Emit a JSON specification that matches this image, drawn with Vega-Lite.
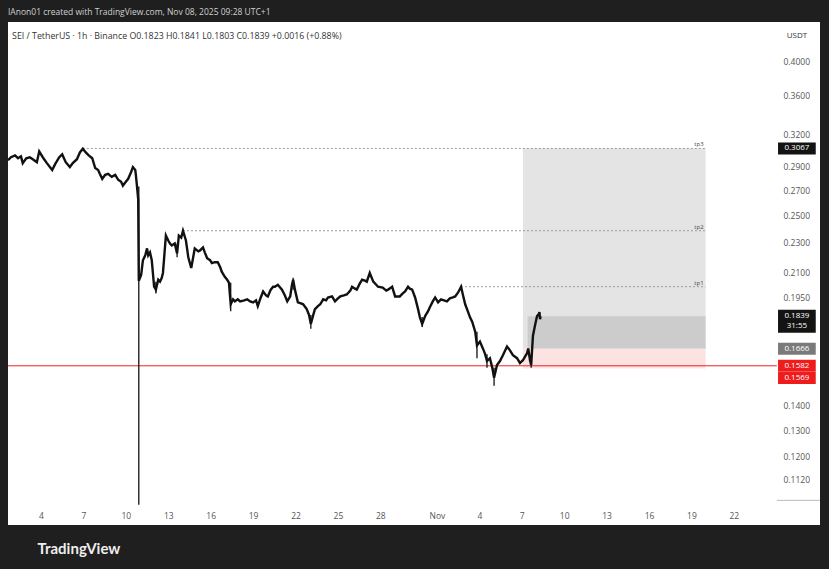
{
  "$schema": "https://vega.github.io/schema/vega-lite/v6.json",
  "width": 812,
  "height": 503,
  "autosize": {"type": "none"},
  "padding": {"left": 8, "top": 22, "right": 9, "bottom": 44},
  "background": "#1f1f1f",
  "title": {
    "text": "IAnon01 created with TradingView.com, Nov 08, 2025 09:28 UTC+1",
    "anchor": "start",
    "frame": "group",
    "fontSize": 8.5,
    "fontWeight": "normal",
    "color": "#d0d0d0",
    "font": "Open Sans",
    "offset": 6
  },
  "datasets": {
    "zones": [
      {"zone": "target", "t0": "2025-11-07T02:00Z", "p0": 0.1666, "p1": 0.3067},
      {"zone": "open", "t0": "2025-11-07T10:00Z", "p0": 0.1666, "p1": 0.1839},
      {"zone": "stop", "t0": "2025-11-07T02:00Z", "p0": 0.1569, "p1": 0.1666}
    ],
    "levels": [
      {"name": "tp3", "p": 0.3067, "t0": "2025-10-06T23:00Z"},
      {"name": "tp2", "p": 0.2387, "t0": "2025-10-14T01:00Z"},
      {"name": "tp1", "p": 0.2013, "t0": "2025-11-02T17:00Z"}
    ],
    "tags": [
      {"label": "0.3067", "p": 0.3067, "kind": "target"},
      {"label": "0.1666", "p": 0.1666, "kind": "entry"},
      {"label": "0.1582", "p": 0.1582, "kind": "stop"},
      {"label": "0.1569", "p": 0.1569, "kind": "stop2"},
      {"label": "0.1839\n31:55", "p": 0.1839, "kind": "last"}
    ],
    "wicks": [
      {"t": "2025-10-10T22:00Z", "h": 0.2731, "l": 0.1036},
      {"t": "2025-10-17T10:00Z", "h": 0.2038, "l": 0.1868},
      {"t": "2025-10-23T02:00Z", "h": 0.1846, "l": 0.1771},
      {"t": "2025-10-30T23:00Z", "h": 0.1835, "l": 0.1780},
      {"t": "2025-11-03T20:00Z", "h": 0.1755, "l": 0.1619},
      {"t": "2025-11-05T01:00Z", "h": 0.1572, "l": 0.1489},
      {"t": "2025-11-04T13:00Z", "h": 0.1638, "l": 0.1572},
      {"t": "2025-11-07T16:00Z", "h": 0.1609, "l": 0.1572},
      {"t": "2025-10-21T20:00Z", "h": 0.2068, "l": 0.1995},
      {"t": "2025-10-13T15:00Z", "h": 0.2296, "l": 0.2202},
      {"t": "2025-10-12T03:00Z", "h": 0.2044, "l": 0.1972}
    ],
    "prices": [
      {"t": "2025-10-01T16:00Z", "c": 0.2959},
      {"t": "2025-10-01T21:00Z", "c": 0.2986},
      {"t": "2025-10-02T04:00Z", "c": 0.3003},
      {"t": "2025-10-02T09:00Z", "c": 0.2977},
      {"t": "2025-10-02T14:00Z", "c": 0.2994},
      {"t": "2025-10-02T17:00Z", "c": 0.2933},
      {"t": "2025-10-02T23:00Z", "c": 0.2977},
      {"t": "2025-10-03T05:00Z", "c": 0.2986},
      {"t": "2025-10-03T10:00Z", "c": 0.2968},
      {"t": "2025-10-03T17:00Z", "c": 0.2941},
      {"t": "2025-10-03T21:00Z", "c": 0.3040},
      {"t": "2025-10-04T03:00Z", "c": 0.2986},
      {"t": "2025-10-04T10:00Z", "c": 0.2933},
      {"t": "2025-10-04T19:00Z", "c": 0.2872},
      {"t": "2025-10-05T00:00Z", "c": 0.2924},
      {"t": "2025-10-05T07:00Z", "c": 0.2986},
      {"t": "2025-10-05T12:00Z", "c": 0.3012},
      {"t": "2025-10-05T18:00Z", "c": 0.2941},
      {"t": "2025-10-06T01:00Z", "c": 0.2898},
      {"t": "2025-10-06T06:00Z", "c": 0.2933},
      {"t": "2025-10-06T13:00Z", "c": 0.2968},
      {"t": "2025-10-06T18:00Z", "c": 0.3030},
      {"t": "2025-10-06T23:00Z", "c": 0.3065},
      {"t": "2025-10-07T04:00Z", "c": 0.3030},
      {"t": "2025-10-07T09:00Z", "c": 0.3003},
      {"t": "2025-10-07T15:00Z", "c": 0.2977},
      {"t": "2025-10-07T20:00Z", "c": 0.2889},
      {"t": "2025-10-08T01:00Z", "c": 0.2872},
      {"t": "2025-10-08T04:00Z", "c": 0.2838},
      {"t": "2025-10-08T08:00Z", "c": 0.2796},
      {"t": "2025-10-08T13:00Z", "c": 0.2830},
      {"t": "2025-10-08T18:00Z", "c": 0.2838},
      {"t": "2025-10-09T00:00Z", "c": 0.2813},
      {"t": "2025-10-09T06:00Z", "c": 0.2830},
      {"t": "2025-10-09T11:00Z", "c": 0.2788},
      {"t": "2025-10-09T16:00Z", "c": 0.2771},
      {"t": "2025-10-09T19:00Z", "c": 0.2739},
      {"t": "2025-10-10T00:00Z", "c": 0.2771},
      {"t": "2025-10-10T04:00Z", "c": 0.2796},
      {"t": "2025-10-10T09:00Z", "c": 0.2855},
      {"t": "2025-10-10T12:00Z", "c": 0.2898},
      {"t": "2025-10-10T16:00Z", "c": 0.2872},
      {"t": "2025-10-10T17:00Z", "c": 0.2830},
      {"t": "2025-10-10T19:00Z", "c": 0.2731},
      {"t": "2025-10-10T21:00Z", "c": 0.2626},
      {"t": "2025-10-10T22:00Z", "c": 0.2050},
      {"t": "2025-10-11T02:00Z", "c": 0.2087},
      {"t": "2025-10-11T05:00Z", "c": 0.2182},
      {"t": "2025-10-11T09:00Z", "c": 0.2215},
      {"t": "2025-10-11T12:00Z", "c": 0.2262},
      {"t": "2025-10-11T14:00Z", "c": 0.2215},
      {"t": "2025-10-11T17:00Z", "c": 0.2235},
      {"t": "2025-10-11T20:00Z", "c": 0.2182},
      {"t": "2025-10-12T00:00Z", "c": 0.2013},
      {"t": "2025-10-12T03:00Z", "c": 0.1995},
      {"t": "2025-10-12T07:00Z", "c": 0.2056},
      {"t": "2025-10-12T10:00Z", "c": 0.2044},
      {"t": "2025-10-12T13:00Z", "c": 0.2068},
      {"t": "2025-10-12T15:00Z", "c": 0.2099},
      {"t": "2025-10-12T18:00Z", "c": 0.2248},
      {"t": "2025-10-12T20:00Z", "c": 0.2352},
      {"t": "2025-10-13T00:00Z", "c": 0.2317},
      {"t": "2025-10-13T03:00Z", "c": 0.2296},
      {"t": "2025-10-13T06:00Z", "c": 0.2282},
      {"t": "2025-10-13T11:00Z", "c": 0.2296},
      {"t": "2025-10-13T15:00Z", "c": 0.2228},
      {"t": "2025-10-13T18:00Z", "c": 0.2352},
      {"t": "2025-10-13T22:00Z", "c": 0.2338},
      {"t": "2025-10-14T01:00Z", "c": 0.2387},
      {"t": "2025-10-14T06:00Z", "c": 0.2317},
      {"t": "2025-10-14T10:00Z", "c": 0.2202},
      {"t": "2025-10-14T15:00Z", "c": 0.2131},
      {"t": "2025-10-14T18:00Z", "c": 0.2195},
      {"t": "2025-10-14T21:00Z", "c": 0.2262},
      {"t": "2025-10-15T03:00Z", "c": 0.2242},
      {"t": "2025-10-15T06:00Z", "c": 0.2248},
      {"t": "2025-10-15T11:00Z", "c": 0.2269},
      {"t": "2025-10-15T14:00Z", "c": 0.2235},
      {"t": "2025-10-15T18:00Z", "c": 0.2195},
      {"t": "2025-10-15T23:00Z", "c": 0.2182},
      {"t": "2025-10-16T02:00Z", "c": 0.2163},
      {"t": "2025-10-16T07:00Z", "c": 0.2169},
      {"t": "2025-10-16T12:00Z", "c": 0.2169},
      {"t": "2025-10-16T16:00Z", "c": 0.2137},
      {"t": "2025-10-16T19:00Z", "c": 0.2106},
      {"t": "2025-10-17T00:00Z", "c": 0.2074},
      {"t": "2025-10-17T04:00Z", "c": 0.2056},
      {"t": "2025-10-17T07:00Z", "c": 0.2038},
      {"t": "2025-10-17T10:00Z", "c": 0.1908},
      {"t": "2025-10-17T14:00Z", "c": 0.1937},
      {"t": "2025-10-17T17:00Z", "c": 0.1925},
      {"t": "2025-10-17T22:00Z", "c": 0.1937},
      {"t": "2025-10-18T02:00Z", "c": 0.1925},
      {"t": "2025-10-18T09:00Z", "c": 0.1931},
      {"t": "2025-10-18T14:00Z", "c": 0.1937},
      {"t": "2025-10-18T19:00Z", "c": 0.1925},
      {"t": "2025-10-19T00:00Z", "c": 0.1919},
      {"t": "2025-10-19T05:00Z", "c": 0.1931},
      {"t": "2025-10-19T08:00Z", "c": 0.1897},
      {"t": "2025-10-19T13:00Z", "c": 0.1948},
      {"t": "2025-10-19T17:00Z", "c": 0.1984},
      {"t": "2025-10-19T22:00Z", "c": 0.1960},
      {"t": "2025-10-20T01:00Z", "c": 0.1954},
      {"t": "2025-10-20T06:00Z", "c": 0.1995},
      {"t": "2025-10-20T10:00Z", "c": 0.2013},
      {"t": "2025-10-20T13:00Z", "c": 0.2013},
      {"t": "2025-10-20T18:00Z", "c": 0.2025},
      {"t": "2025-10-21T01:00Z", "c": 0.1995},
      {"t": "2025-10-21T06:00Z", "c": 0.1960},
      {"t": "2025-10-21T10:00Z", "c": 0.1925},
      {"t": "2025-10-21T15:00Z", "c": 0.1954},
      {"t": "2025-10-21T18:00Z", "c": 0.2025},
      {"t": "2025-10-21T20:00Z", "c": 0.2056},
      {"t": "2025-10-21T23:00Z", "c": 0.1995},
      {"t": "2025-10-22T04:00Z", "c": 0.1919},
      {"t": "2025-10-22T08:00Z", "c": 0.1914},
      {"t": "2025-10-22T13:00Z", "c": 0.1908},
      {"t": "2025-10-22T19:00Z", "c": 0.1880},
      {"t": "2025-10-22T23:00Z", "c": 0.1846},
      {"t": "2025-10-23T02:00Z", "c": 0.1797},
      {"t": "2025-10-23T06:00Z", "c": 0.1846},
      {"t": "2025-10-23T09:00Z", "c": 0.1880},
      {"t": "2025-10-23T14:00Z", "c": 0.1897},
      {"t": "2025-10-23T18:00Z", "c": 0.1908},
      {"t": "2025-10-23T23:00Z", "c": 0.1937},
      {"t": "2025-10-24T04:00Z", "c": 0.1931},
      {"t": "2025-10-24T07:00Z", "c": 0.1948},
      {"t": "2025-10-24T14:00Z", "c": 0.1954},
      {"t": "2025-10-24T19:00Z", "c": 0.1925},
      {"t": "2025-10-25T00:00Z", "c": 0.1943},
      {"t": "2025-10-25T04:00Z", "c": 0.1954},
      {"t": "2025-10-25T10:00Z", "c": 0.1960},
      {"t": "2025-10-25T15:00Z", "c": 0.1966},
      {"t": "2025-10-25T21:00Z", "c": 0.1989},
      {"t": "2025-10-26T00:00Z", "c": 0.2013},
      {"t": "2025-10-26T05:00Z", "c": 0.2001},
      {"t": "2025-10-26T08:00Z", "c": 0.1995},
      {"t": "2025-10-26T13:00Z", "c": 0.2032},
      {"t": "2025-10-26T17:00Z", "c": 0.2056},
      {"t": "2025-10-26T22:00Z", "c": 0.2050},
      {"t": "2025-10-27T01:00Z", "c": 0.2044},
      {"t": "2025-10-27T06:00Z", "c": 0.2099},
      {"t": "2025-10-27T12:00Z", "c": 0.2044},
      {"t": "2025-10-27T17:00Z", "c": 0.2025},
      {"t": "2025-10-27T20:00Z", "c": 0.2013},
      {"t": "2025-10-28T04:00Z", "c": 0.2007},
      {"t": "2025-10-28T10:00Z", "c": 0.1989},
      {"t": "2025-10-28T13:00Z", "c": 0.1995},
      {"t": "2025-10-28T20:00Z", "c": 0.2013},
      {"t": "2025-10-29T01:00Z", "c": 0.1954},
      {"t": "2025-10-29T06:00Z", "c": 0.1954},
      {"t": "2025-10-29T09:00Z", "c": 0.1954},
      {"t": "2025-10-29T14:00Z", "c": 0.1972},
      {"t": "2025-10-29T18:00Z", "c": 0.1984},
      {"t": "2025-10-29T23:00Z", "c": 0.2013},
      {"t": "2025-10-30T02:00Z", "c": 0.2001},
      {"t": "2025-10-30T06:00Z", "c": 0.1995},
      {"t": "2025-10-30T11:00Z", "c": 0.1948},
      {"t": "2025-10-30T16:00Z", "c": 0.1880},
      {"t": "2025-10-30T19:00Z", "c": 0.1835},
      {"t": "2025-10-30T23:00Z", "c": 0.1797},
      {"t": "2025-10-31T04:00Z", "c": 0.1841},
      {"t": "2025-10-31T09:00Z", "c": 0.1868},
      {"t": "2025-10-31T12:00Z", "c": 0.1891},
      {"t": "2025-10-31T17:00Z", "c": 0.1925},
      {"t": "2025-10-31T21:00Z", "c": 0.1948},
      {"t": "2025-11-01T02:00Z", "c": 0.1919},
      {"t": "2025-11-01T07:00Z", "c": 0.1937},
      {"t": "2025-11-01T12:00Z", "c": 0.1931},
      {"t": "2025-11-01T17:00Z", "c": 0.1925},
      {"t": "2025-11-01T22:00Z", "c": 0.1943},
      {"t": "2025-11-02T03:00Z", "c": 0.1948},
      {"t": "2025-11-02T07:00Z", "c": 0.1954},
      {"t": "2025-11-02T12:00Z", "c": 0.1978},
      {"t": "2025-11-02T17:00Z", "c": 0.2013},
      {"t": "2025-11-02T20:00Z", "c": 0.1966},
      {"t": "2025-11-03T00:00Z", "c": 0.1908},
      {"t": "2025-11-03T05:00Z", "c": 0.1863},
      {"t": "2025-11-03T08:00Z", "c": 0.1835},
      {"t": "2025-11-03T12:00Z", "c": 0.1808},
      {"t": "2025-11-03T17:00Z", "c": 0.1755},
      {"t": "2025-11-03T20:00Z", "c": 0.1683},
      {"t": "2025-11-04T01:00Z", "c": 0.1703},
      {"t": "2025-11-04T06:00Z", "c": 0.1668},
      {"t": "2025-11-04T10:00Z", "c": 0.1638},
      {"t": "2025-11-04T13:00Z", "c": 0.1605},
      {"t": "2025-11-04T18:00Z", "c": 0.1619},
      {"t": "2025-11-04T22:00Z", "c": 0.1572},
      {"t": "2025-11-05T01:00Z", "c": 0.1525},
      {"t": "2025-11-05T06:00Z", "c": 0.1586},
      {"t": "2025-11-05T11:00Z", "c": 0.1605},
      {"t": "2025-11-05T16:00Z", "c": 0.1634},
      {"t": "2025-11-05T23:00Z", "c": 0.1678},
      {"t": "2025-11-06T04:00Z", "c": 0.1658},
      {"t": "2025-11-06T09:00Z", "c": 0.1634},
      {"t": "2025-11-06T16:00Z", "c": 0.1619},
      {"t": "2025-11-06T21:00Z", "c": 0.1595},
      {"t": "2025-11-07T02:00Z", "c": 0.1609},
      {"t": "2025-11-07T06:00Z", "c": 0.1629},
      {"t": "2025-11-07T09:00Z", "c": 0.1643},
      {"t": "2025-11-07T11:00Z", "c": 0.1668},
      {"t": "2025-11-07T14:00Z", "c": 0.1609},
      {"t": "2025-11-07T16:00Z", "c": 0.1586},
      {"t": "2025-11-07T19:00Z", "c": 0.1734},
      {"t": "2025-11-07T23:00Z", "c": 0.1797},
      {"t": "2025-11-08T02:00Z", "c": 0.1841},
      {"t": "2025-11-08T05:00Z", "c": 0.1852},
      {"t": "2025-11-08T06:00Z", "c": 0.1863},
      {"t": "2025-11-08T07:00Z", "c": 0.1823},
      {"t": "2025-11-08T08:00Z", "c": 0.1839}
    ]
  },
  "layer": [
    {
      "data": {"name": "zones"},
      "mark": {"type": "rect"},
      "encoding": {
        "x": {
          "field": "t0",
          "type": "temporal",
          "scale": {
            "type": "utc",
            "domain": [
              {"year": 2025, "month": 10, "date": 1, "hours": 16, "utc": true},
              {"year": 2025, "month": 11, "date": 28, "hours": 2, "minutes": 13, "utc": true}
            ]
          },
          "axis": {
            "orient": "bottom",
            "offset": -20,
            "values": [
              {"year": 2025, "month": 10, "date": 4, "utc": true},
              {"year": 2025, "month": 10, "date": 7, "utc": true},
              {"year": 2025, "month": 10, "date": 10, "utc": true},
              {"year": 2025, "month": 10, "date": 13, "utc": true},
              {"year": 2025, "month": 10, "date": 16, "utc": true},
              {"year": 2025, "month": 10, "date": 19, "utc": true},
              {"year": 2025, "month": 10, "date": 22, "utc": true},
              {"year": 2025, "month": 10, "date": 25, "utc": true},
              {"year": 2025, "month": 10, "date": 28, "utc": true},
              {"year": 2025, "month": 11, "date": 1, "utc": true},
              {"year": 2025, "month": 11, "date": 4, "utc": true},
              {"year": 2025, "month": 11, "date": 7, "utc": true},
              {"year": 2025, "month": 11, "date": 10, "utc": true},
              {"year": 2025, "month": 11, "date": 13, "utc": true},
              {"year": 2025, "month": 11, "date": 16, "utc": true},
              {"year": 2025, "month": 11, "date": 19, "utc": true},
              {"year": 2025, "month": 11, "date": 22, "utc": true}
            ],
            "labelExpr": "utcdate(datum.value) == 1 ? 'Nov' : '' + utcdate(datum.value)",
            "labelPadding": 6,
            "labelBaseline": "top",
            "labelFontSize": 8.5,
            "labelColor": "#555555",
            "labelFlush": false,
            "labelOverlap": false,
            "title": "TradingView",
            "titleAnchor": "start",
            "titleAlign": "left",
            "titleBaseline": "middle",
            "titleX": 29,
            "titleY": 43,
            "titleFont": "Lato",
            "titleFontSize": 15,
            "titleFontWeight": "bold",
            "titleColor": "#eeeeee"
          }
        },
        "x2": {"datum": {"year": 2025, "month": 11, "date": 20, "utc": true}},
        "y": {
          "field": "p0",
          "type": "quantitative",
          "scale": {"type": "log", "domain": [0.0989, 0.444], "nice": false, "zero": false},
          "axis": {
            "orient": "right",
            "offset": -44,
            "values": [0.112, 0.12, 0.13, 0.14, 0.195, 0.21, 0.23, 0.25, 0.27, 0.29, 0.32, 0.36, 0.4],
            "format": ".4f",
            "labelPadding": 7,
            "labelAlign": "left",
            "labelFontSize": 8.5,
            "labelColor": "#555555",
            "labelOverlap": false,
            "title": null
          }
        },
        "y2": {"field": "p1"},
        "color": {
          "field": "zone",
          "type": "nominal",
          "scale": {"domain": ["target", "open", "stop"], "range": ["#e4e4e4", "#cccccc", "#fde2e2"]},
          "legend": null
        }
      }
    },
    {
      "data": {"name": "levels"},
      "mark": {"type": "rule", "color": "#9a9a9a", "strokeWidth": 1, "strokeDash": [2, 2]},
      "encoding": {
        "x": {"field": "t0", "type": "temporal"},
        "x2": {"datum": {"year": 2025, "month": 11, "date": 20, "utc": true}},
        "y": {"field": "p", "type": "quantitative"}
      }
    },
    {
      "data": {"name": "levels"},
      "mark": {"type": "text", "align": "right", "baseline": "bottom", "dx": -2, "dy": -1, "fontSize": 6, "fill": "#444444"},
      "encoding": {
        "x": {"datum": {"year": 2025, "month": 11, "date": 20, "utc": true}},
        "y": {"field": "p", "type": "quantitative"},
        "text": {"field": "name"}
      }
    },
    {
      "data": {"values": [{}]},
      "mark": {"type": "rule", "color": "#ee2222", "strokeWidth": 1},
      "encoding": {
        "x": {"datum": {"year": 2025, "month": 10, "date": 1, "hours": 16, "utc": true}},
        "x2": {"datum": {"year": 2025, "month": 11, "date": 25, "hours": 1, "utc": true}},
        "y": {"datum": 0.1582}
      }
    },
    {
      "data": {"name": "wicks"},
      "mark": {"type": "rule", "color": "#111111", "strokeWidth": 1.3},
      "encoding": {
        "x": {"field": "t", "type": "temporal"},
        "y": {"field": "h", "type": "quantitative"},
        "y2": {"field": "l"}
      }
    },
    {
      "data": {"name": "prices"},
      "mark": {"type": "line", "color": "#111111", "strokeWidth": 2.4, "strokeJoin": "miter"},
      "encoding": {
        "x": {"field": "t", "type": "temporal"},
        "y": {"field": "c", "type": "quantitative"}
      }
    },
    {
      "data": {"values": [{}]},
      "mark": {"type": "text", "align": "left", "baseline": "middle", "fontSize": 8.8, "fill": "#333333", "font": "Open Sans"},
      "encoding": {
        "x": {"datum": {"year": 2025, "month": 10, "date": 1, "hours": 23, "utc": true}},
        "y": {"datum": 0.4323},
        "text": {"value": "SEI / TetherUS · 1h · Binance   O0.1823  H0.1841  L0.1803  C0.1839  +0.0016 (+0.88%)"}
      }
    },
    {
      "data": {"values": [{}]},
      "mark": {"type": "text", "align": "center", "baseline": "middle", "fontSize": 8, "fill": "#333333", "font": "Open Sans"},
      "encoding": {
        "x": {"datum": {"year": 2025, "month": 11, "date": 26, "hours": 11, "utc": true}},
        "y": {"datum": 0.4323},
        "text": {"value": "USDT"}
      }
    },
    {
      "data": {"values": [{}]},
      "mark": {"type": "rule", "color": "#bbbbbb", "strokeWidth": 1},
      "encoding": {
        "x": {"datum": {"year": 2025, "month": 11, "date": 25, "hours": 1, "utc": true}},
        "x2": {"datum": {"year": 2025, "month": 11, "date": 28, "hours": 2, "utc": true}},
        "y": {"datum": 0.105}
      }
    },
    {
      "data": {"name": "tags"},
      "transform": [{"filter": "datum.kind == 'target' || datum.kind == 'entry' || datum.kind == 'stop'"}],
      "mark": {"type": "bar", "size": 12},
      "encoding": {
        "x": {"datum": {"year": 2025, "month": 11, "date": 25, "hours": 3, "utc": true}},
        "x2": {"datum": {"year": 2025, "month": 11, "date": 27, "hours": 19, "utc": true}},
        "y": {"field": "p", "type": "quantitative"},
        "fill": {
          "field": "kind",
          "type": "nominal",
          "scale": {"domain": ["target", "entry", "stop"], "range": ["#131313", "#7a7a7a", "#ee1c1c"]},
          "legend": null
        }
      }
    },
    {
      "data": {"name": "tags"},
      "transform": [{"filter": "datum.kind == 'stop2'"}],
      "mark": {"type": "bar", "size": 12, "yOffset": 9.5, "color": "#ee1c1c"},
      "encoding": {
        "x": {"datum": {"year": 2025, "month": 11, "date": 25, "hours": 3, "utc": true}},
        "x2": {"datum": {"year": 2025, "month": 11, "date": 27, "hours": 19, "utc": true}},
        "y": {"field": "p", "type": "quantitative"}
      }
    },
    {
      "data": {"name": "tags"},
      "transform": [{"filter": "datum.kind == 'last'"}],
      "mark": {"type": "bar", "size": 23, "yOffset": 5, "color": "#131313"},
      "encoding": {
        "x": {"datum": {"year": 2025, "month": 11, "date": 25, "hours": 3, "utc": true}},
        "x2": {"datum": {"year": 2025, "month": 11, "date": 27, "hours": 19, "utc": true}},
        "y": {"field": "p", "type": "quantitative"}
      }
    },
    {
      "data": {"name": "tags"},
      "transform": [{"filter": "datum.kind != 'stop2'"}],
      "mark": {"type": "text", "align": "center", "baseline": "middle", "fontSize": 8, "fill": "#ffffff", "lineBreak": "\n", "lineHeight": 10, "font": "Open Sans"},
      "encoding": {
        "x": {"datum": {"year": 2025, "month": 11, "date": 26, "hours": 11, "utc": true}},
        "y": {"field": "p", "type": "quantitative"},
        "text": {"field": "label"}
      }
    },
    {
      "data": {"name": "tags"},
      "transform": [{"filter": "datum.kind == 'stop2'"}],
      "mark": {"type": "text", "align": "center", "baseline": "middle", "fontSize": 8, "fill": "#ffffff", "yOffset": 9.5, "font": "Open Sans"},
      "encoding": {
        "x": {"datum": {"year": 2025, "month": 11, "date": 26, "hours": 11, "utc": true}},
        "y": {"field": "p", "type": "quantitative"},
        "text": {"field": "label"}
      }
    }
  ],
  "config": {
    "view": {"fill": "white", "stroke": null},
    "font": "Open Sans",
    "axis": {"grid": false, "domain": false, "ticks": false, "labelFont": "Open Sans"}
  }
}
